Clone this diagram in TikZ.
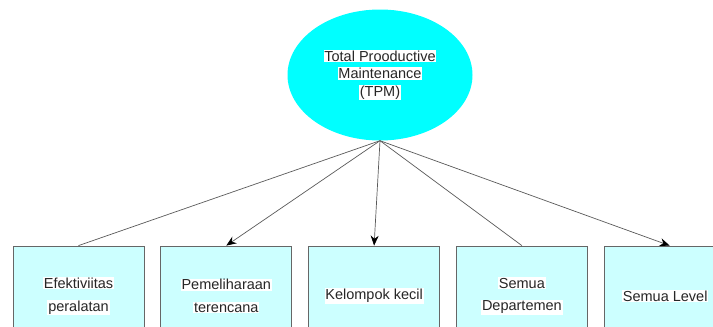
\documentclass[tikz,border=0pt]{standalone}
\usepackage{fontspec}
\setmainfont{Liberation Sans}
\usetikzlibrary{arrows.meta,positioning,shapes.geometric}
\definecolor{tpmcyan}{HTML}{00FFFF}
\definecolor{boxcyan}{HTML}{CCFFFF}
\newcommand{\hl}[1]{{\setlength{\fboxsep}{0.8pt}\colorbox{white}{#1}}}

\begin{document}
\begin{tikzpicture}[
    x=1pt, y=-1pt,
    node distance=16pt,
    pillar/.style={draw=black!60, line width=0.8pt, fill=boxcyan, minimum width=131pt, minimum height=100pt, align=center, font=\fontsize{14.5}{22.5}\selectfont, text=black!85, inner sep=0pt},
    link/.style={draw=black!65, line width=0.7pt},
    arrowlink/.style={link, -{Stealth[length=10pt, width=8pt, color=black]}}
]
\useasboundingbox (0,0) rectangle (713,327);
\clip (0,0) rectangle (713,327);
\node[ellipse, fill=tpmcyan, minimum width=185pt, minimum height=131pt, inner sep=0pt, align=center, font=\fontsize{14.5}{17.5}\selectfont, text=black!85] (tpm) at (380,75)
    {\hl{Total Prooductive}\\\hl{Maintenance}\\\hl{(TPM)}};
\node[pillar] (k1) at (78.5,296) {\hl{Efektiviitas}\\\hl{peralatan}};
\node[pillar, right=of k1] (k2) {\hl{Pemeliharaan}\\\hl{terencana}};
\node[pillar, right=of k2] (k3) {\hl{Kelompok kecil}};
\node[pillar, right=of k3] (k4) {\hl{Semua}\\\hl{Departemen}};
\node[pillar, right=of k4] (k5) {\hl{Semua Level}\hspace{9pt}};
\draw[link] (tpm.south) -- (k1.north);
\draw[arrowlink] (tpm.south) -- (k2.north);
\draw[arrowlink] (tpm.south) -- (k3.north);
\draw[link] (tpm.south) -- (k4.north);
\draw[arrowlink] (tpm.south) -- (k5.north);
\end{tikzpicture}
\end{document}
